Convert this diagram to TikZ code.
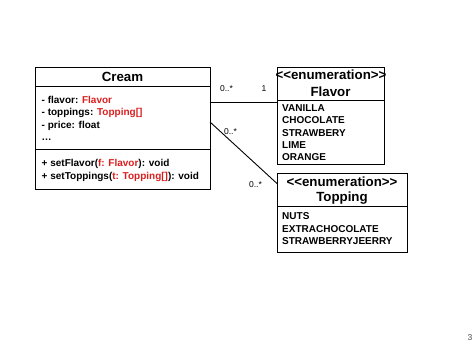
\documentclass[tikz,border=0pt]{standalone}
\usepackage{fontspec}
\setmainfont{Liberation Sans}
\usepackage{xcolor}
\definecolor{umlred}{RGB}{218,30,30}

\tikzset{
  umlbox/.style={draw, line width=1pt, inner sep=0pt, anchor=north west},
  sep/.style={line width=1pt},
  link/.style={line width=0.9pt},
  title/.style={font=\fontsize{13.3}{16}\selectfont\bfseries, anchor=base, inner sep=0pt},
  entry/.style={font=\fontsize{10}{12}\selectfont\bfseries, anchor=base west, inner sep=0pt},
  mult/.style={font=\fontsize{8.5}{10}\selectfont, inner sep=0pt},
}
\newcommand{\rd}[1]{\textcolor{umlred}{#1}}
\newcommand{\stereo}[1]{<\kern0pt<#1>\kern0pt>}

\begin{document}
\begin{tikzpicture}[x=1pt,y=-1pt]
    \useasboundingbox (0,0) rectangle (474,355);
    % Cream
    \node[umlbox, minimum width=175pt, minimum height=122pt] (cream) at (35,67.5) {};
    \draw[sep] (35,87) -- (210,87);
    \draw[sep] (35,149.5) -- (210,149.5);
    \node[title] (creamtitle) at (122.5,82) {Cream};
    \node[entry] (cattr1) at (41.5,103.5) {- flavor: \rd{Flavor}};
    \node[entry] (cattr2) at (41.5,115.9) {- toppings: \rd{Topping[]}};
    \node[entry] (cattr3) at (41.5,128.3) {- price: float};
    \node[entry] (cattr4) at (41.5,140.7) {\dots};
    \node[entry] (cop1) at (41.5,166.8) {+ setFlavor(\rd{f: Flavor}): void};
    \node[entry] (cop2) at (41.5,179.2) {+ setToppings(\rd{t: Topping[]}): void};
    % Flavor
    \node[umlbox, minimum width=106.5pt, minimum height=96.5pt] (flavor) at (277,67.5) {};
    \draw[sep] (277,101) -- (383.5,101);
    \node[title] (flavorst) at (331,79.5) {\stereo{enumeration}};
    \node[title] (flavortitle) at (330.5,96.3) {Flavor};
    \foreach \v [count=\i] in {VANILLA,CHOCOLATE,STRAWBERY,LIME,ORANGE}
        \node[entry] (flavor\i) at (282,111.3+12.4*\i-12.4) {\v};
    % Topping
    \node[umlbox, minimum width=130pt, minimum height=78.5pt] (topping) at (277,173.5) {};
    \draw[sep] (277,207) -- (407,207);
    \node[title] (toppingst) at (342,187) {\stereo{enumeration}};
    \node[title] (toppingtitle) at (342,202) {Topping};
    \foreach \v [count=\i] in {NUTS,EXTRACHOCOLATE,STRAWBERRYJEERRY}
        \node[entry] (topping\i) at (282,219.8+12.4*\i-12.4) {\v};
    % associations
    \coordinate (creamF) at (210,102.5);
    \coordinate (flavorC) at (277,102.5);
    \coordinate (creamT) at (210,122);
    \coordinate (toppingC) at (277,183.5);
    \draw[link] (creamF) -- (flavorC);
    \draw[link] (creamT) -- (toppingC);
    \node[mult] (m1) at (226.5,88.5) {0..*};
    \node[mult] (m2) at (264,88.5) {1};
    \node[mult] (m3) at (230.5,131.5) {0..*};
    \node[mult] (m4) at (255.5,185) {0..*};
    \node[mult, text=black!70] (page) at (470,338) {3};
\end{tikzpicture}
\end{document}
